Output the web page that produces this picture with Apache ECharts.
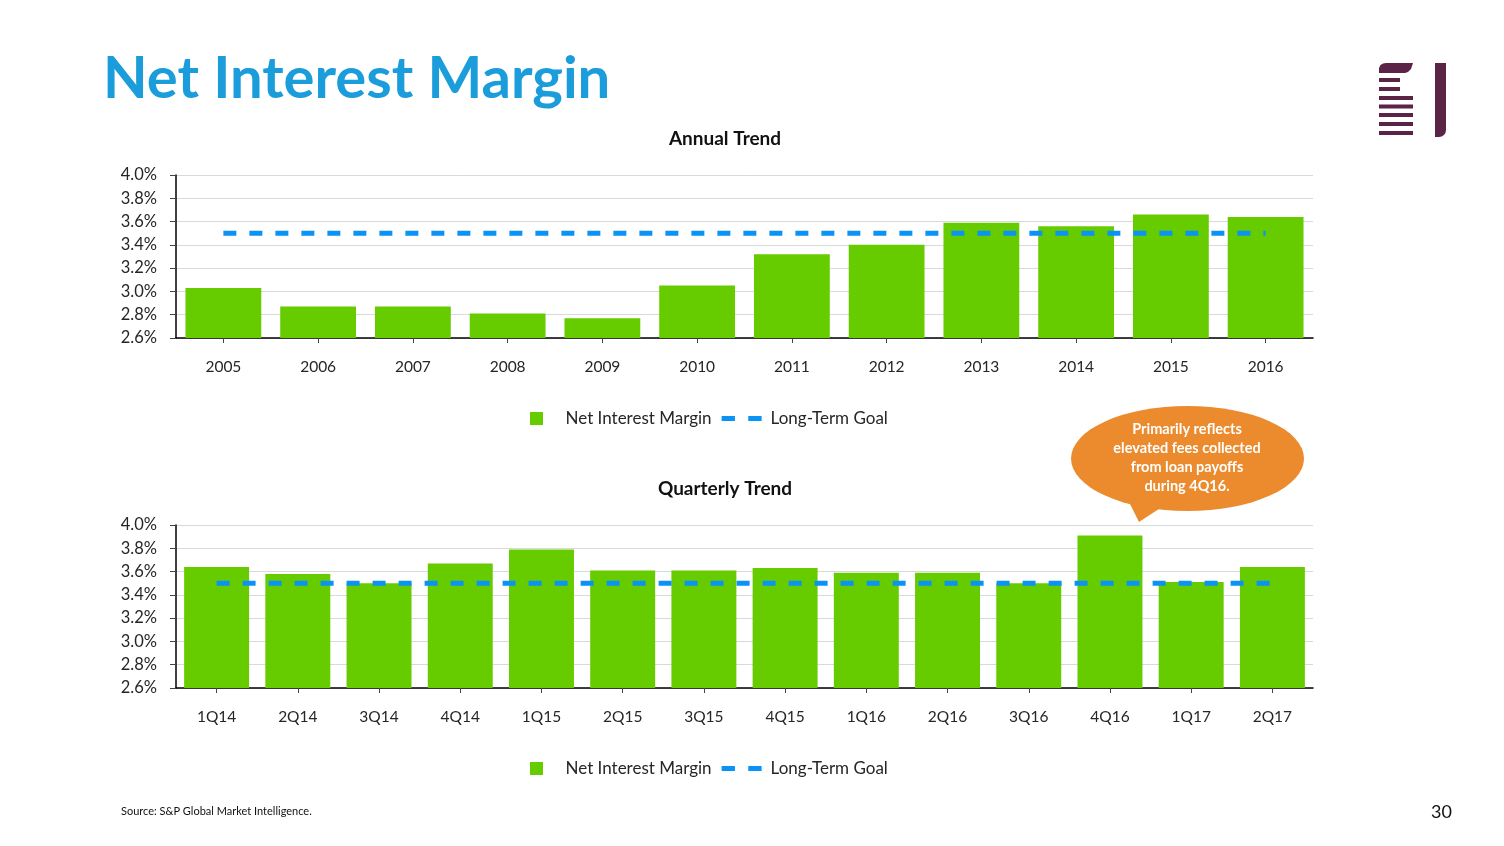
<!DOCTYPE html>
<html>
<head>
<meta charset="utf-8">
<script src="https://cdn.jsdelivr.net/npm/echarts@6/dist/echarts.min.js"></script>
<style>
html,body{margin:0;padding:0;background:#fff;}
#chart{width:1504px;height:846px;}
</style>
</head>
<body>
<div id="chart"></div>
<script>
// ---- data ----
const annualCategories = ['2005','2006','2007','2008','2009','2010','2011','2012','2013','2014','2015','2016'];
const annualNIM = [3.03, 2.87, 2.87, 2.81, 2.77, 3.05, 3.32, 3.40, 3.59, 3.56, 3.66, 3.64];
const annualGoal = [3.5, 3.5, 3.5, 3.5, 3.5, 3.5, 3.5, 3.5, 3.5, 3.5, 3.5, 3.5];

const quarterCategories = ['1Q14','2Q14','3Q14','4Q14','1Q15','2Q15','3Q15','4Q15','1Q16','2Q16','3Q16','4Q16','1Q17','2Q17'];
const quarterNIM = [3.64, 3.58, 3.50, 3.67, 3.79, 3.61, 3.61, 3.63, 3.59, 3.59, 3.50, 3.91, 3.51, 3.64];
const quarterGoal = [3.5, 3.5, 3.5, 3.5, 3.5, 3.5, 3.5, 3.5, 3.5, 3.5, 3.5, 3.5, 3.5, 3.5];

const yMin = 2.6, yMax = 4.0, yStep = 0.2;
const calloutLines = ['Primarily reflects', 'elevated fees collected', 'from loan payoffs', 'during 4Q16.'];

// ---- styles ----
const FONT = 'Lato, "Open Sans", sans-serif';
const GREEN = '#66CC00';
const BLUE = '#0A93F5';
const TXT = '#262626';
const ORANGE = '#EB8B2D';
const PURPLE = '#5B2346';

const chart = echarts.init(document.getElementById('chart'), null, {renderer: 'canvas'});

function yAxis(gridIndex) {
  return {
    type: 'value', gridIndex, min: yMin, max: yMax, interval: yStep,
    axisLine: {show: true, lineStyle: {color: '#000', width: 1.5}},
    axisTick: {show: true, length: 6, lineStyle: {color: '#444'}},
    axisLabel: {margin: 19, fontFamily: FONT, fontSize: 16.5, color: TXT,
      formatter: v => v.toFixed(1) + '%'},
    splitLine: {show: true, lineStyle: {color: '#d9d9d9', width: 1}}
  };
}
function xAxis(gridIndex, data) {
  return {
    type: 'category', gridIndex, data,
    axisLine: {show: true, lineStyle: {color: '#000', width: 1.5}},
    axisTick: {show: true, alignWithLabel: true, length: 5, inside: false, lineStyle: {color: '#444'}},
    axisLabel: {margin: 21, fontFamily: FONT, fontSize: 15.5, color: TXT}
  };
}
function legend(top) {
  return {
    left: 525, top, itemWidth: 40, itemHeight: 13, itemGap: 10,
    textStyle: {fontFamily: FONT, fontSize: 17, color: TXT, padding: [0, 0, 0, 4]},
    data: [
      {name: 'Net Interest Margin', icon: 'path://M0,0h13v13h-13z'},
      {name: 'Long-Term Goal', icon: 'path://M0,0h13v5h-13z M26,0h13v5h-13z'}
    ]
  };
}

const option = {
  backgroundColor: '#fff',
  animation: false,
  title: [
    {text: 'Net Interest Margin', left: 98, top: 45,
      textStyle: {fontFamily: FONT, fontWeight: 'bold', fontSize: 58, color: '#1B9DDB'}},
    {text: 'Annual Trend', left: 720, top: 124, textAlign: 'center',
      textStyle: {fontFamily: FONT, fontWeight: 'bold', fontSize: 19, color: '#111'}},
    {text: 'Quarterly Trend', left: 720, top: 474, textAlign: 'center',
      textStyle: {fontFamily: FONT, fontWeight: 'bold', fontSize: 19, color: '#111'}},
    {text: 'Source: S&P Global Market Intelligence.', left: 116, top: 801,
      textStyle: {fontFamily: FONT, fontWeight: 'normal', fontSize: 11, color: '#111'}},
    {text: '30', left: 1426, top: 798,
      textStyle: {fontFamily: FONT, fontWeight: 'normal', fontSize: 18, color: '#111'}}
  ],
  legend: [legend(405), legend(755)],
  grid: [
    {left: 176, top: 175, width: 1137, height: 163},
    {left: 176, top: 525, width: 1137, height: 163}
  ],
  xAxis: [xAxis(0, annualCategories), xAxis(1, quarterCategories)],
  yAxis: [yAxis(0), yAxis(1)],
  series: [
    {name: 'Net Interest Margin', type: 'bar', xAxisIndex: 0, yAxisIndex: 0,
      data: annualNIM, barCategoryGap: '20%', itemStyle: {color: GREEN}, z: 2},
    {name: 'Long-Term Goal', type: 'line', xAxisIndex: 0, yAxisIndex: 0,
      data: annualGoal, symbol: 'none', z: 3,
      lineStyle: {color: BLUE, width: 5, type: [13, 13]}, itemStyle: {color: BLUE}},
    {name: 'Net Interest Margin', type: 'bar', xAxisIndex: 1, yAxisIndex: 1,
      data: quarterNIM, barCategoryGap: '20%', itemStyle: {color: GREEN}, z: 2},
    {name: 'Long-Term Goal', type: 'line', xAxisIndex: 1, yAxisIndex: 1,
      data: quarterGoal, symbol: 'none', z: 3,
      lineStyle: {color: BLUE, width: 5, type: [13, 13]}, itemStyle: {color: BLUE}}
  ],
  graphic: [
    // logo
    {type: 'polygon', shape: {points: [[1379, 73], [1379, 68], [1380.5, 65], [1383, 63.5], [1386, 63], [1413, 63], [1411, 69], [1408, 72], [1405, 73]]}, style: {fill: PURPLE}},
    {type: 'rect', shape: {x: 1379, y: 78, width: 21, height: 4}, style: {fill: PURPLE}},
    {type: 'rect', shape: {x: 1379, y: 87, width: 21, height: 4}, style: {fill: PURPLE}},
    {type: 'rect', shape: {x: 1379, y: 96, width: 34, height: 4}, style: {fill: PURPLE}},
    {type: 'rect', shape: {x: 1379, y: 104.5, width: 34, height: 4}, style: {fill: PURPLE}},
    {type: 'rect', shape: {x: 1379, y: 113, width: 34, height: 4}, style: {fill: PURPLE}},
    {type: 'rect', shape: {x: 1379, y: 122, width: 34, height: 4}, style: {fill: PURPLE}},
    {type: 'rect', shape: {x: 1379, y: 131, width: 34, height: 4}, style: {fill: PURPLE}},
    {type: 'rect', shape: {x: 1435, y: 63, width: 11, height: 74, r: [0, 0, 7, 0]}, style: {fill: PURPLE}},
    // callout
    {type: 'polygon', z: 10, shape: {points: [[1128, 500], [1139, 522], [1165, 505]]}, style: {fill: ORANGE}},
    {type: 'circle', z: 10, x: 1187.5, y: 458.5, scaleX: 116.5 / 52.5, scaleY: 1,
      shape: {cx: 0, cy: 0, r: 52.5}, style: {fill: ORANGE}},
    {type: 'text', z: 11, x: 1187, y: 458, style: {text: calloutLines.join('\n'), fill: '#fff',
      font: 'bold 14.5px ' + FONT, align: 'center', verticalAlign: 'middle', lineHeight: 19}}
  ]
};
chart.setOption(option);
</script>
</body>
</html>
